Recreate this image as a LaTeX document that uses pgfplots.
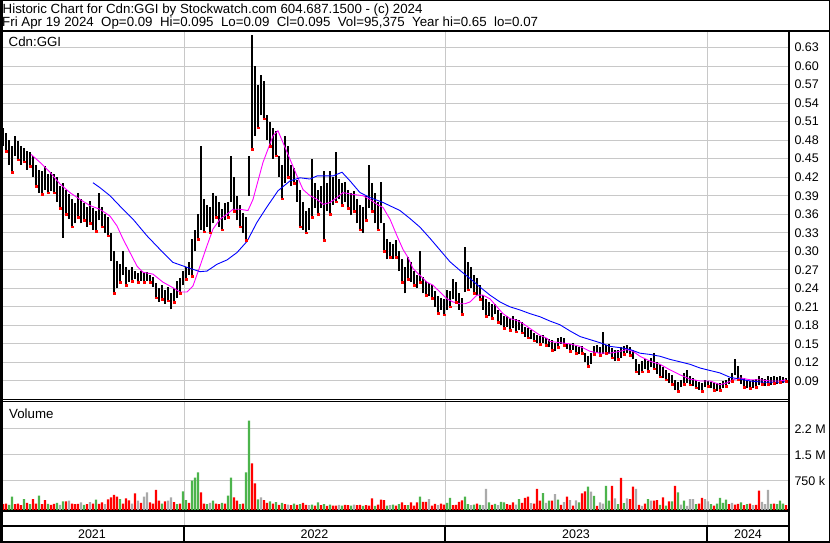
\documentclass[border=0pt]{standalone}
\usepackage{pgfplots}
\pgfplotsset{compat=1.18}
\usepackage{pgfplotstable}
\usepackage{fontspec}
\setmainfont{Liberation Sans}
\definecolor{gridc}{RGB}{200,200,200}
\definecolor{volg}{RGB}{76,180,76}
\definecolor{volr}{RGB}{255,0,0}
\definecolor{vola}{RGB}{170,170,170}
\definecolor{mam}{RGB}{255,0,255}
\definecolor{mab}{RGB}{0,0,255}

\pgfplotstableread{
x lo hi
0 0.480 0.512
3 0.470 0.500
6 0.462 0.492
9 0.440 0.480
12 0.428 0.470
15 0.455 0.487
18 0.448 0.478
21 0.440 0.470
24 0.445 0.468
27 0.432 0.462
30 0.438 0.460
33 0.420 0.455
36 0.405 0.440
39 0.395 0.432
42 0.392 0.430
45 0.400 0.438
48 0.395 0.425
51 0.398 0.428
54 0.395 0.425
57 0.380 0.420
60 0.370 0.405
63 0.322 0.410
66 0.360 0.400
69 0.352 0.392
72 0.340 0.385
75 0.345 0.378
78 0.355 0.395
81 0.345 0.385
84 0.350 0.378
87 0.340 0.372
90 0.345 0.382
93 0.335 0.370
96 0.333 0.365
99 0.350 0.395
102 0.340 0.372
105 0.330 0.360
108 0.325 0.355
111 0.285 0.330
114 0.232 0.300
117 0.240 0.285
120 0.250 0.280
123 0.262 0.300
126 0.245 0.275
129 0.250 0.270
132 0.252 0.275
135 0.255 0.268
138 0.250 0.265
141 0.252 0.268
144 0.250 0.265
147 0.252 0.266
150 0.250 0.262
153 0.242 0.258
156 0.225 0.248
159 0.218 0.240
162 0.222 0.245
165 0.215 0.238
168 0.220 0.242
171 0.206 0.232
174 0.218 0.240
177 0.225 0.252
180 0.232 0.256
183 0.245 0.268
186 0.255 0.275
189 0.262 0.282
192 0.260 0.320
195 0.300 0.335
198 0.320 0.360
201 0.335 0.470
204 0.332 0.385
207 0.340 0.375
210 0.330 0.372
213 0.345 0.395
216 0.355 0.390
219 0.340 0.380
222 0.335 0.368
225 0.350 0.378
228 0.355 0.380
231 0.380 0.455
234 0.365 0.420
237 0.350 0.390
240 0.340 0.375
243 0.330 0.362
246 0.318 0.355
249 0.390 0.455
252 0.465 0.650
255 0.487 0.600
258 0.500 0.570
261 0.520 0.585
264 0.515 0.575
267 0.480 0.520
270 0.470 0.510
273 0.450 0.500
276 0.455 0.495
279 0.420 0.455
282 0.385 0.440
285 0.410 0.487
288 0.420 0.470
291 0.405 0.440
294 0.410 0.435
297 0.380 0.415
300 0.340 0.400
303 0.335 0.380
306 0.330 0.365
309 0.335 0.370
312 0.355 0.450
315 0.370 0.410
318 0.360 0.400
321 0.370 0.405
324 0.318 0.430
327 0.365 0.410
330 0.360 0.430
333 0.375 0.420
336 0.380 0.460
339 0.385 0.417
342 0.375 0.410
345 0.380 0.412
348 0.370 0.400
351 0.358 0.395
354 0.365 0.398
357 0.345 0.385
360 0.335 0.375
363 0.330 0.372
366 0.350 0.390
369 0.370 0.440
372 0.365 0.410
375 0.345 0.395
378 0.335 0.380
381 0.345 0.412
384 0.300 0.345
387 0.287 0.320
390 0.290 0.315
393 0.287 0.312
396 0.290 0.318
399 0.268 0.300
402 0.250 0.288
405 0.232 0.275
408 0.255 0.290
411 0.250 0.282
414 0.245 0.268
417 0.240 0.262
420 0.250 0.300
423 0.232 0.258
426 0.229 0.252
429 0.228 0.248
432 0.224 0.245
435 0.210 0.235
438 0.200 0.228
441 0.205 0.225
444 0.197 0.222
447 0.205 0.238
450 0.210 0.235
453 0.222 0.255
456 0.218 0.250
459 0.205 0.232
462 0.198 0.225
465 0.234 0.307
468 0.238 0.283
471 0.240 0.275
474 0.232 0.262
477 0.230 0.256
480 0.222 0.245
483 0.205 0.230
486 0.195 0.222
489 0.195 0.218
492 0.192 0.215
495 0.198 0.215
498 0.185 0.205
501 0.180 0.200
504 0.175 0.195
507 0.178 0.196
510 0.172 0.192
513 0.176 0.195
516 0.170 0.190
519 0.172 0.188
522 0.168 0.185
525 0.162 0.178
528 0.160 0.175
531 0.158 0.172
534 0.155 0.168
537 0.152 0.165
540 0.150 0.163
543 0.152 0.165
546 0.148 0.160
549 0.145 0.158
552 0.140 0.157
555 0.138 0.152
558 0.145 0.160
561 0.150 0.162
564 0.148 0.160
567 0.142 0.152
570 0.138 0.150
573 0.140 0.152
576 0.135 0.146
579 0.133 0.145
582 0.135 0.146
585 0.120 0.135
588 0.114 0.130
591 0.118 0.135
594 0.133 0.146
597 0.135 0.148
600 0.132 0.145
603 0.133 0.170
606 0.135 0.148
609 0.133 0.150
612 0.128 0.143
615 0.122 0.140
618 0.125 0.140
621 0.128 0.145
624 0.133 0.146
627 0.135 0.148
630 0.132 0.145
633 0.125 0.140
636 0.105 0.125
639 0.100 0.118
642 0.105 0.122
645 0.110 0.125
648 0.106 0.122
651 0.112 0.128
654 0.110 0.135
657 0.102 0.120
660 0.097 0.117
663 0.095 0.112
666 0.092 0.108
669 0.087 0.103
672 0.085 0.100
675 0.075 0.092
678 0.073 0.088
681 0.080 0.092
684 0.085 0.103
687 0.087 0.108
690 0.084 0.098
693 0.082 0.095
696 0.079 0.092
699 0.076 0.088
702 0.073 0.087
705 0.080 0.092
708 0.082 0.090
711 0.078 0.088
714 0.075 0.087
717 0.073 0.086
720 0.075 0.087
723 0.078 0.090
726 0.082 0.092
729 0.085 0.095
732 0.090 0.103
735 0.100 0.126
738 0.092 0.115
741 0.085 0.100
744 0.080 0.095
747 0.078 0.092
750 0.078 0.090
753 0.079 0.092
756 0.080 0.094
759 0.084 0.098
762 0.085 0.095
765 0.082 0.093
768 0.085 0.098
771 0.084 0.096
774 0.086 0.098
777 0.085 0.097
780 0.088 0.098
783 0.087 0.096
786 0.090 0.095
}\pricedata

\pgfplotstableread{
x v
0 .13
9 .06
12 .30
24 .23
30 .08
39 .33
48 .09
57 .12
63 .16
84 .06
96 .21
120 .23
162 .10
177 .08
183 .45
186 .20
192 .76
195 .85
198 1.00
207 .08
213 .18
222 .12
228 .33
231 .85
240 .08
246 1.00
249 2.49
258 .22
270 .16
276 .14
282 .12
294 .10
300 .08
312 .07
318 .13
324 .08
330 .07
342 .04
351 .04
363 .03
375 .03
387 .04
393 .07
399 .08
408 .05
420 .30
447 .12
450 .26
465 .30
468 .08
474 .07
480 .06
489 .13
495 .09
501 .15
504 .13
519 .23
543 .40
549 .18
558 .21
579 .13
588 .59
594 .32
606 .61
609 .18
618 .08
624 .11
648 .23
660 .06
666 .04
672 .16
678 .42
684 .18
696 .08
711 .08
717 .10
720 .26
723 .12
726 .21
741 .13
747 .08
771 .09
777 .08
780 .18
783 .10
}\volgreen

\pgfplotstableread{
x v
3 .08
6 .10
15 .08
18 .10
21 .05
27 .12
33 .23
36 .10
42 .08
45 .20
51 .06
54 .09
66 .16
72 .10
75 .08
78 .09
87 .08
93 .10
99 .09
102 .13
108 .22
111 .28
114 .35
117 .30
123 .10
126 .25
129 .19
135 .39
141 .12
150 .13
153 .10
156 .49
159 .18
165 .16
174 .14
180 .10
189 .12
201 .42
204 .10
216 .10
219 .08
225 .10
234 .28
237 .18
243 .10
252 1.26
255 .68
264 .20
267 .12
273 .10
279 .06
285 .08
291 .05
297 .06
303 .12
306 .06
315 .04
321 .05
327 .03
333 .04
336 .04
345 .06
348 .05
357 .05
360 .06
366 .05
369 .04
372 .25
378 .07
381 .21
384 .20
396 .04
402 .13
405 .05
411 .13
414 .04
417 .13
423 .15
426 .15
432 .04
435 .09
441 .10
444 .07
453 .05
456 .06
459 .15
462 .19
477 .10
492 .06
507 .08
510 .06
513 .13
522 .12
525 .26
528 .30
534 .10
537 .52
540 .18
552 .18
561 .06
567 .30
573 .04
582 .39
585 .45
597 .03
612 .61
621 .84
630 .23
633 .59
639 .06
645 .10
654 .18
657 .20
663 .28
669 .16
675 .61
699 .10
702 .26
714 .04
729 .08
735 .07
738 .09
744 .05
750 .10
756 .06
759 .47
774 .10
786 .05
}\volred

\pgfplotstableread{
x v
60 .06
69 .18
81 .13
90 .14
105 .08
132 .10
138 .18
144 .30
147 .42
168 .18
171 .28
210 .12
261 .28
288 .07
309 .05
339 .06
354 .07
390 .05
429 .23
438 .05
471 .05
483 .05
486 .52
498 .05
516 .07
531 .11
546 .12
555 .37
564 .14
570 .20
576 .19
591 .44
600 .13
603 .10
615 .25
627 .25
636 .52
642 .03
651 .18
681 .07
687 .03
690 .23
693 .23
705 .23
708 .16
732 .12
753 .05
762 .15
765 .08
768 .49
}\volgray

\newcommand{\tf}{\fontsize{13.3}{15}\selectfont}
\newcommand{\lf}{\fontsize{12.5}{14}\selectfont}

\begin{document}
\begin{tikzpicture}[x=1pt,y=1pt]
\useasboundingbox (0,0) rectangle (830,543);
\fill[white] (0,0) rectangle (830,543);

% ---------------- price panel
\begin{axis}[
  at={(0pt,143pt)}, anchor=south west, scale only axis,
  width=789pt, height=368pt,
  xmin=0, xmax=789, ymin=0.0592, ymax=0.6551,
  axis line style={black, line width=1pt},
  xtick={184,445,707}, xticklabels={,,},
  xmajorgrids, ymajorgrids,
  grid style={draw=gridc, line width=1pt},
  ytick={0.09,0.12,0.15,0.18,0.21,0.24,0.27,0.30,0.33,0.36,0.39,0.42,0.45,0.48,0.51,0.54,0.57,0.60,0.63},
  yticklabel pos=right,
  major tick length=0pt,
  yticklabel style={font=\lf, text=black, xshift=2pt, /pgf/number format/.cd, fixed, fixed zerofill, precision=2, assume math mode=true},
]
\addplot[black, line width=2.5pt, mark=none,
  quiver={u=0, v=\thisrow{hi}-\thisrow{lo}}]
  table[x=x, y=lo] {\pricedata};
\addplot[only marks, mark=square*, mark size=0.8pt, color=red, each nth point=2]
  table[x=x, y=lo] {\pricedata};
\addplot[mam, line width=0.9pt] coordinates {
(31,0.457)(40,0.444)(50,0.428)(60,0.409)(70,0.395)(80,0.384)(90,0.374)(100,0.368)(110,0.357)(117,0.341)(123,0.32)(130,0.298)(137,0.276)(143,0.266)(153,0.263)(163,0.25)(173,0.241)(180,0.234)(187,0.234)(193,0.244)(200,0.276)(207,0.309)(213,0.336)(220,0.352)(227,0.36)(233,0.368)(240,0.368)(248,0.366)(253,0.384)(263,0.444)(273,0.487)(278,0.495)(283,0.476)(290,0.449)(297,0.422)(303,0.40)(310,0.39)(317,0.384)(323,0.376)(330,0.379)(337,0.387)(343,0.395)(353,0.392)(363,0.39)(370,0.384)(377,0.376)(383,0.371)(390,0.352)(397,0.325)(403,0.303)(408,0.290)(413,0.272)(420,0.261)(427,0.25)(433,0.245)(440,0.234)(447,0.223)(453,0.218)(460,0.215)(465,0.215)(470,0.218)(477,0.229)(483,0.229)(490,0.223)(497,0.21)(503,0.199)(510,0.191)(517,0.188)(523,0.183)(530,0.175)(540,0.164)(547,0.159)(550,0.154)(560,0.152)(570,0.15)(580,0.146)(590,0.138)(600,0.135)(610,0.135)(620,0.138)(627,0.141)(633,0.138)(640,0.13)(650,0.122)(660,0.117)(670,0.108)(680,0.1)(690,0.093)(700,0.09)(710,0.09)(720,0.084)(727,0.087)(733,0.092)(740,0.095)(750,0.092)(760,0.092)(770,0.09)(780,0.09)(786,0.092)};
\addplot[mab, line width=0.9pt] coordinates {
(93,0.411)(100,0.403)(110,0.39)(123,0.368)(133,0.352)(147,0.325)(160,0.303)(173,0.282)(187,0.274)(200,0.267)(207,0.268)(217,0.279)(227,0.286)(237,0.298)(247,0.316)(257,0.347)(267,0.372)(278,0.398)(290,0.414)(300,0.419)(310,0.417)(317,0.422)(327,0.422)(333,0.422)(342,0.428)(350,0.414)(360,0.395)(370,0.387)(383,0.379)(400,0.366)(410,0.353)(420,0.339)(430,0.321)(440,0.302)(450,0.283)(460,0.269)(470,0.256)(480,0.242)(490,0.229)(500,0.218)(510,0.21)(520,0.205)(530,0.199)(540,0.194)(550,0.187)(560,0.181)(570,0.171)(580,0.162)(590,0.157)(600,0.152)(610,0.146)(620,0.144)(630,0.141)(640,0.135)(650,0.133)(660,0.13)(670,0.125)(680,0.121)(690,0.117)(700,0.111)(720,0.103)(730,0.096)(740,0.093)(750,0.09)(763,0.088)(780,0.088)(786,0.089)};
\end{axis}

% ---------------- volume panel
\begin{axis}[
  at={(0pt,33pt)}, anchor=south west, scale only axis,
  width=789pt, height=108pt,
  xmin=0, xmax=789, ymin=0, ymax=3.115,
  axis line style={black, line width=1pt},
  xtick={184,445,707}, xticklabels={,,},
  xmajorgrids, ymajorgrids,
  grid style={draw=gridc, line width=1pt},
  ytick={0.837,1.587,2.337},
  yticklabels={750 k,1.5 M,2.2 M},
  yticklabel pos=right,
  major tick length=0pt,
  yticklabel style={font=\lf, text=black, xshift=2pt},
]
\addplot[ybar, bar shift=0pt, bar width=2.4pt, fill=volg, draw=none] table[x=x, y expr=\thisrow{v}+0.087] {\volgreen};
\addplot[ybar, bar shift=0pt, bar width=2.4pt, fill=volr, draw=none] table[x=x, y expr=\thisrow{v}+0.087] {\volred};
\addplot[ybar, bar shift=0pt, bar width=2.4pt, fill=vola, draw=none] table[x=x, y expr=\thisrow{v}+0.087] {\volgray};
\end{axis}

% ---------------- date strip and year row
\foreach \xx in {184,445,707} {
  \draw[gridc, line width=1pt] (\xx,17) -- (\xx,32);
  \draw[black, line width=1.8pt] (\xx,1) -- (\xx,16.5);
}
\draw[black, line width=2pt] (0,32) -- (789,32);
\draw[black, line width=2pt] (0,16.5) -- (789,16.5);
\node[font=\lf, anchor=base] at (92,4) {2021};
\node[font=\lf, anchor=base] at (314.5,4) {2022};
\node[font=\lf, anchor=base] at (576,4) {2023};
\node[font=\lf, anchor=base] at (748,4) {2024};

% ---------------- frame and title
\draw[black, line width=2pt] (0,512) -- (830,512);
\draw[black, line width=2.2pt] (789,0) -- (789,512);
\draw[black, line width=1pt] (0.5,0.5) rectangle (829.5,542.5);
\draw[black, line width=2.5pt] (1.25,0) -- (1.25,543);
\draw[black, line width=2pt] (0,1) -- (830,1);
\node[font=\tf, anchor=base west, inner sep=0pt] at (2.5,529.5) {Historic Chart for Cdn:GGI by Stockwatch.com 604.687.1500 - (c) 2024};
\node[font=\tf, anchor=base west, inner sep=0pt] at (2,516) {Fri Apr 19 2024\ \ Op=0.09\ \ Hi=0.095\ \ Lo=0.09\ \ Cl=0.095\ \ Vol=95,375\ \ Year hi=0.65\ \ lo=0.07};
\node[font=\tf, anchor=base west, inner sep=0pt] at (8.5,496.5) {Cdn:GGI};
\node[font=\tf, anchor=base west, inner sep=0pt] at (9,124.7) {Volume};
\end{tikzpicture}
\end{document}
